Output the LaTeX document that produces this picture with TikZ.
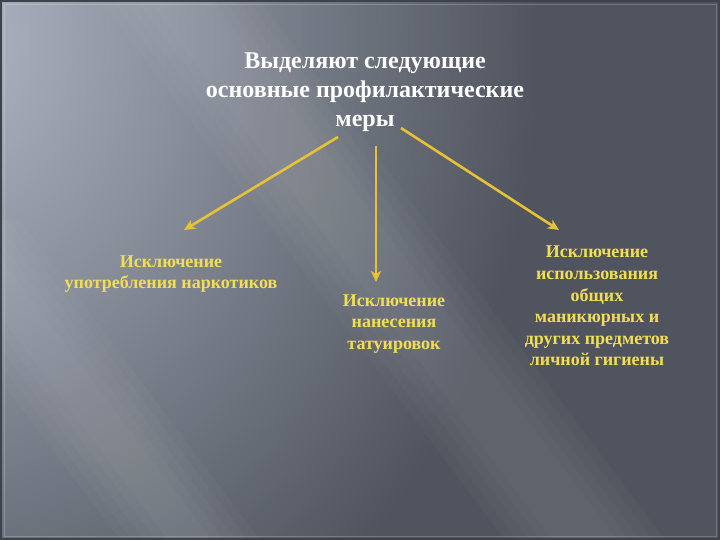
\documentclass[tikz,border=0pt]{standalone}
\usepackage{fontspec}
\setmainfont{Liberation Serif}
\usetikzlibrary{arrows.meta}
\definecolor{bgdark}{HTML}{4F545E}
\definecolor{bglight}{HTML}{B0B7C4}
\definecolor{itemyellow}{HTML}{F2DE55}
\definecolor{arrowgold}{HTML}{E8C236}
\definecolor{framec}{HTML}{3E424A}
\tikzset{
  titletext/.style={text=white, font=\bfseries\fontsize{24}{29}\selectfont, align=center},
  itemtext/.style={text=itemyellow, font=\bfseries\fontsize{18}{21.6}\selectfont, align=center},
  goldarrow/.style={draw=arrowgold, line width=2.6pt, -{Stealth[length=11pt,width=10pt,inset=3pt]}},
  streak/.style={fill=white, opacity=0.022}
}
\begin{document}
\begin{tikzpicture}[x=1pt,y=-1pt]
\useasboundingbox (0,0) rectangle (720,540);
% background
\fill[bgdark] (0,0) rectangle (720,540);
\begin{scope}
\clip (0,0) rectangle (720,540);
\shade[inner color=bglight, outer color=bgdark] (-60,40) ellipse (600 and 720);
\foreach \w in {0,12,24,36,48} {
  \fill[streak] (100+\w,0) -- (260-\w,0) -- (665-\w,540) -- (505+\w,540) -- cycle;
  \fill[streak] (-120+\w,220) -- (20-\w,220) -- (260-\w,540) -- (120+\w,540) -- cycle;
}
\end{scope}
\draw[framec, line width=2pt] (1,1) rectangle (719,539);
\draw[white, opacity=0.2, line width=0.6pt] (4,4) rectangle (716,536);
% title
\node[titletext] (title) at (365,92) {Выделяют следующие\\основные профилактические\\меры};
% anchor coordinates for connectors
\coordinate (lstart) at (338,137);
\coordinate (mstart) at (376,146);
\coordinate (rstart) at (401,128);
\coordinate (lend) at (184,230);
\coordinate (mend) at (376,282);
\coordinate (rend) at (559,230);
% items
\node[itemtext] (left) at (171,274) {Исключение\\употребления наркотиков};
\node[itemtext] (mid) at (394,324) {Исключение\\нанесения\\татуировок};
\node[itemtext] (right) at (597,306) {Исключение\\использования\\общих\\маникюрных и\\других предметов\\личной гигиены};
% arrows
\draw[goldarrow] (lstart) -- (lend);
\draw[goldarrow] (mstart) -- (mend);
\draw[goldarrow] (rstart) -- (rend);
\end{tikzpicture}
\end{document}
